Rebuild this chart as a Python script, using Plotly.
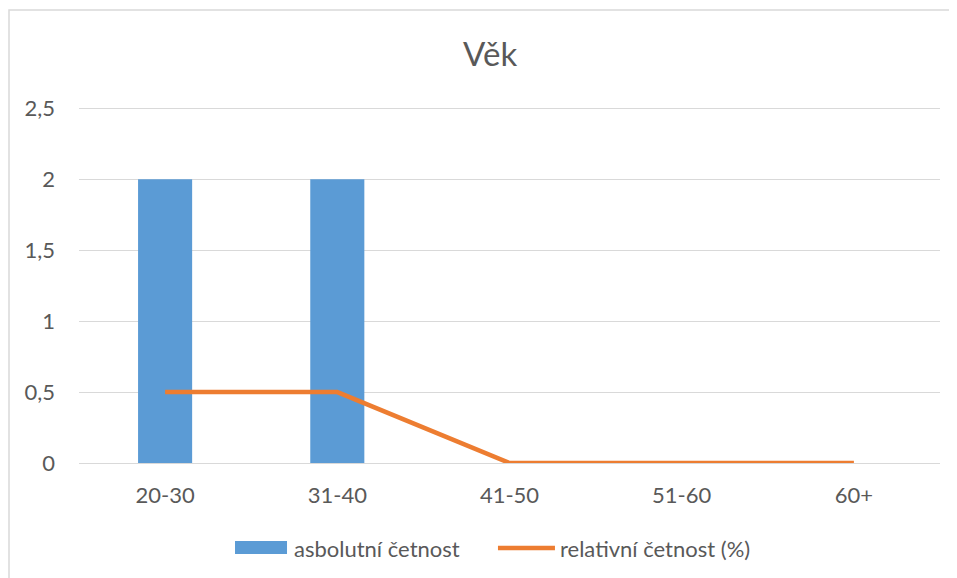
import plotly.graph_objects as go

categories = ["20-30", "31-40", "41-50", "51-60", "60+"]
absolutni = [2, 2, 0, 0, 0]
relativni = [0.5, 0.5, 0, 0, 0]
y_ticks = [0, 0.5, 1, 1.5, 2, 2.5]
y_labels = ["0", "0,5", "1", "1,5", "2", "2,5"]
series_names = ["asbolutní četnost", "relativní četnost (%)"]

font = "Lato, 'Open Sans', sans-serif"
grey = "#595959"
blue = "#5B9BD5"
orange = "#ED7D31"

fig = go.Figure()
fig.add_trace(go.Bar(
    x=categories, y=absolutni,
    name=series_names[0],
    marker=dict(color=blue, line=dict(width=0)),
))
fig.add_trace(go.Scatter(
    x=categories, y=relativni,
    name=series_names[1],
    mode="lines",
    line=dict(color=orange, width=4.5),
))

fig.update_layout(
    width=949, height=570,
    paper_bgcolor="white", plot_bgcolor="white",
    font=dict(family=font, color=grey, size=22),
    title=dict(text="Věk", x=0.508, xanchor="center", y=0.919, yanchor="middle",
               font=dict(size=33, color=grey)),
    margin=dict(l=71, r=17, t=99, b=115),
    bargap=0.686,
    showlegend=False,
    xaxis=dict(showgrid=False, showline=False, ticks="", ticklabelstandoff=17,
               tickfont=dict(size=22, color=grey)),
    # a little headroom so the 2,5 gridline is drawn
    yaxis=dict(range=[0, 2.51], tickvals=y_ticks, ticktext=y_labels,
               showgrid=True, gridcolor="#D9D9D9", gridwidth=1,
               zeroline=True, zerolinecolor="#D9D9D9", zerolinewidth=1,
               ticks="", ticklabelstandoff=23, tickfont=dict(size=22, color=grey)),
)

# chart frame (paper units of the 861x356 plot area)
fig.add_shape(type="rect", xref="paper", yref="paper",
              x0=-0.0813, x1=1.05, y0=-0.35, y1=1.2725,
              line=dict(color="#D9D9D9", width=1.5), layer="below")

# legend drawn by hand (wide swatch + long line, as in the spreadsheet chart)
fig.add_shape(type="rect", xref="paper", yref="paper",
              x0=0.1812, x1=0.2416, y0=-0.2556, y1=-0.2191,
              fillcolor=blue, line=dict(width=0))
fig.add_annotation(text=series_names[0], xref="paper", yref="paper",
                   x=0.2474, y=-0.2388, xanchor="left", yanchor="middle",
                   showarrow=False, font=dict(size=22, color=grey))
fig.add_shape(type="line", xref="paper", yref="paper",
              x0=0.4866, x1=0.5528, y0=-0.2388, y1=-0.2388,
              line=dict(color=orange, width=4.5))
fig.add_annotation(text=series_names[1], xref="paper", yref="paper",
                   x=0.5563, y=-0.2388, xanchor="left", yanchor="middle",
                   showarrow=False, font=dict(size=22, color=grey))

fig.write_html("out.html")
